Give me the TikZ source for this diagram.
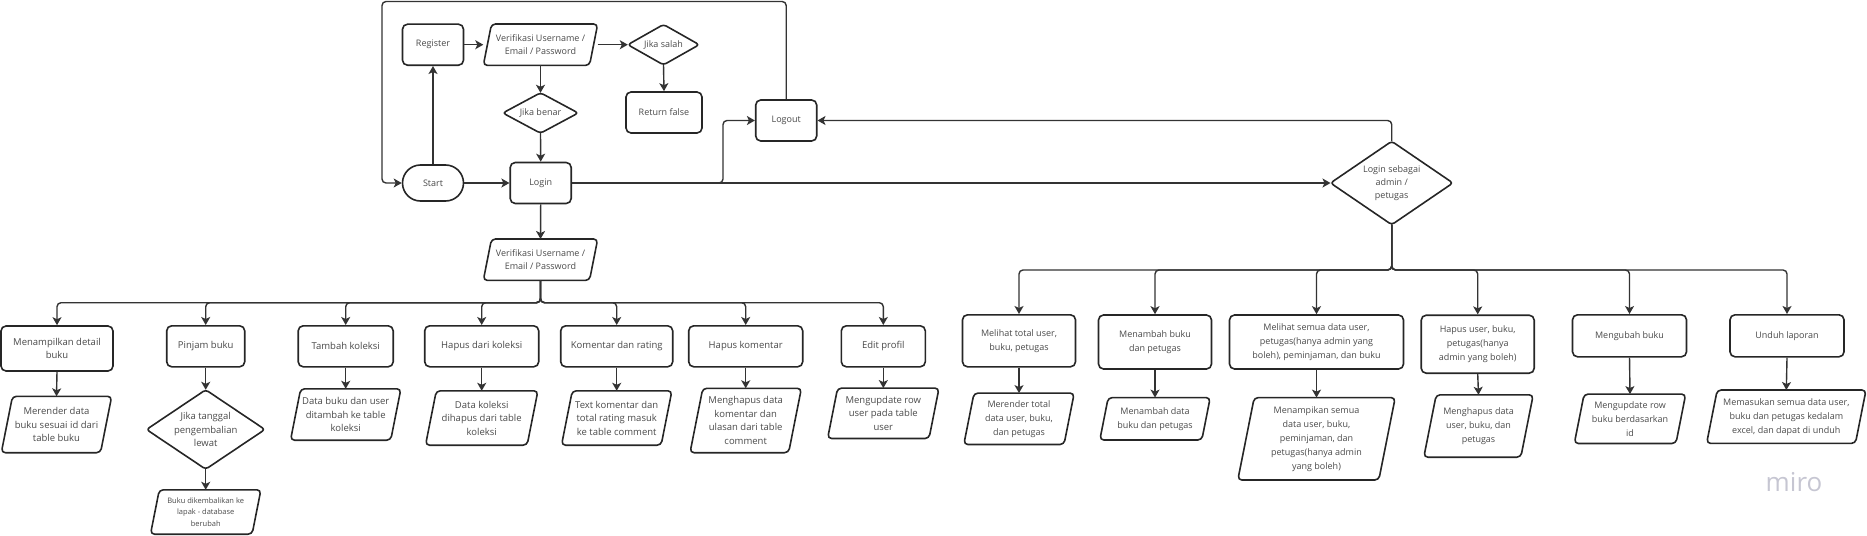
\documentclass[tikz,border=0pt]{standalone}
\usepackage{fontspec}
\setmainfont{Open Sans}
\usetikzlibrary{arrows.meta}
\definecolor{ln}{HTML}{333333}
\definecolor{bd}{HTML}{262626}
\definecolor{tx}{HTML}{4A4A4A}
\definecolor{miroc}{HTML}{C6C6D2}
\tikzset{
  base/.style={inner sep=0pt, align=center, text=tx, font=\fontsize{9.5}{13.5}\selectfont},
  topf/.style={font=\fontsize{9}{12.8}\selectfont},
  rightf/.style={font=\fontsize{9}{14}\selectfont},
  smallf/.style={font=\fontsize{7.5}{11.5}\selectfont},
  box/.style={base, draw=bd, line width=1.6pt, rounded corners=5pt, fill=white},
  conn/.style={draw=ln, line width=1.4pt, rounded corners=4pt, -{Stealth[length=8pt,width=9pt,inset=2pt]}},
  outline/.style={draw=bd, line width=1.6pt, rounded corners=4pt, line join=round},
}
% parallelogram: name, x, y, w, h, options, text
\newcommand{\pgr}[7]{%
  \node[base, minimum width=#4pt, minimum height=#5pt, #6] (#1) at (#2,#3) {#7};
  \draw[outline] (#1.south west) -- ([xshift={-0.2*#5}]#1.south east) -- (#1.north east) -- ([xshift={0.2*#5}]#1.north west) -- cycle;}
% diamond: name, x, y, w, h, options, text
\newcommand{\dmd}[7]{%
  \node[base, minimum width=#4pt, minimum height=#5pt, #6] (#1) at (#2,#3) {#7};
  \draw[outline, rounded corners=3pt] (#1.north) -- (#1.east) -- (#1.south) -- (#1.west) -- cycle;}
\begin{document}
\begin{tikzpicture}[x=1pt,y=-1pt]
\useasboundingbox (0,0) rectangle (1867,535);

% ---------- top part ----------
\node[box, topf, minimum width=61pt, minimum height=36pt, rounded corners=18pt] (start) at (433,183) {Start};
\node[box, topf, minimum width=61pt, minimum height=41pt] (register) at (433,44.7) {Register};
\pgr{verif1}{540.5}{44.7}{114}{41}{topf}{Verifikasi Username /\\Email / Password}
\dmd{salah}{663.5}{44.7}{71}{40}{topf}{Jika salah}
\node[box, topf, minimum width=76pt, minimum height=41pt] (rfalse) at (664,112.5) {Return false};
\dmd{benar}{540.5}{113}{75}{40}{topf}{Jika benar}
\node[box, topf, minimum width=61pt, minimum height=41pt] (login) at (540.7,183) {Login};
\node[box, topf, minimum width=61pt, minimum height=41pt] (logout) at (786.2,120.5) {Logout};
\pgr{verif2}{540.5}{259.7}{114}{41}{topf}{Verifikasi Username /\\Email / Password}
\dmd{adm}{1391.7}{183}{122}{83}{topf}{Login sebagai\\admin /\\petugas}

% ---------- left (user) row ----------
\node[box, minimum width=112pt, minimum height=45pt] (b1) at (57,348.5) {Menampilkan detail\\buku};
\pgr{p1}{56.5}{424.5}{110}{56}{}{Merender data\\buku sesuai id dari\\table buku}
\node[box, minimum width=78pt, minimum height=41pt] (b2) at (205.7,346.3) {Pinjam buku};
\dmd{d2}{205.7}{429.5}{118}{79}{}{Jika tanggal\\pengembalian\\lewat}
\pgr{p2}{205.7}{512}{110}{44}{smallf}{Buku dikembalikan ke\\lapak - database\\berubah}
\node[box, minimum width=95pt, minimum height=41pt] (b3) at (345.7,346.3) {Tambah koleksi};
\pgr{p3}{345.7}{414.5}{110}{51}{}{Data buku dan user\\ditambah ke table\\koleksi}
\node[box, minimum width=114pt, minimum height=41pt] (b4) at (481.7,346.3) {Hapus dari koleksi};
\pgr{p4}{481.7}{418}{112}{54}{}{Data koleksi\\dihapus dari table\\koleksi}
\node[box, minimum width=112pt, minimum height=41pt] (b5) at (616.7,346.3) {Komentar dan rating};
\pgr{p5}{616.7}{418}{110}{54}{}{Text komentar dan\\total rating masuk\\ke table comment}
\node[box, minimum width=114pt, minimum height=41pt] (b6) at (745.7,346.3) {Hapus komentar};
\pgr{p6}{745.7}{420.5}{111}{64}{}{Menghapus data\\komentar dan\\ulasan dari table\\comment}
\node[box, minimum width=84pt, minimum height=41pt] (b7) at (883.3,346.3) {Edit profil};
\pgr{p7}{883.3}{413.3}{111}{50}{}{Mengupdate row\\user pada table\\user}

% ---------- right (admin) row ----------
\node[box, rightf, minimum width=113pt, minimum height=52pt] (r1) at (1019,340.8) {Melihat total user,\\buku, petugas};
\pgr{q1}{1019}{418.8}{110}{51}{rightf}{Merender total\\data user, buku,\\dan petugas}
\node[box, rightf, minimum width=113pt, minimum height=54pt] (r2) at (1155,342) {Menambah buku\\dan petugas};
\pgr{q2}{1155}{418.8}{110}{42}{rightf}{Menambah data\\buku dan petugas}
\node[box, rightf, minimum width=174pt, minimum height=54pt] (r3) at (1316.5,342) {Melihat semua data user,\\petugas(hanya admin yang\\boleh), peminjaman, dan buku};
\pgr{q3}{1316.5}{438.8}{157}{82}{rightf}{Menampikan semua\\data user, buku,\\peminjaman, dan\\petugas(hanya admin\\yang boleh)}
\node[box, rightf, minimum width=113pt, minimum height=58pt] (r4) at (1477.7,344.2) {Hapus user, buku,\\petugas(hanya\\admin yang boleh)};
\pgr{q4}{1478.5}{426}{109}{62}{rightf}{Menghapus data\\user, buku, dan\\petugas}
\node[box, rightf, minimum width=114pt, minimum height=42pt] (r5) at (1629.5,335.8) {Mengubah buku};
\pgr{q5}{1630}{418.8}{111}{49}{rightf}{Mengupdate row\\buku berdasarkan\\id}
\node[box, rightf, minimum width=114pt, minimum height=42pt] (r6) at (1787,335.8) {Unduh laporan};
\pgr{q6}{1786.3}{416.7}{159}{53}{rightf}{Memasukan semua data user,\\buku dan petugas kedalam\\excel, dan dapat di unduh}

\node[text=miroc, inner sep=0pt, font=\fontsize{26}{26}\selectfont] (miro) at (1794,482) {miro};

% ---------- connectors: top ----------
\coordinate (lt) at (382,1.5);
\coordinate (jl) at (723,183);
\coordinate (busL) at (540.5,302.7);
\coordinate (busR) at (1391.7,270);

\draw[conn] (start.north) -- (register.south);
\draw[conn] (register.east) -- (verif1.west);
\draw[conn] (verif1.east) -- (salah.west);
\draw[conn] (salah.south) -- (rfalse.north);
\draw[conn] (verif1.south) -- (benar.north);
\draw[conn] (benar.south) -- (login.north);
\draw[conn] (start.east) -- (login.west);
\draw[conn] (login.east) -- (jl) |- (logout.west);
\draw[conn] (login.east) -- (adm.west);
\draw[conn] (adm.north) |- (logout.east);
\draw[conn] (logout.north) |- (lt) |- (start.west);
\draw[conn] (login.south) -- (verif2.north);

% ---------- connectors: user branches ----------
\foreach \b in {b1,b2,b3,b4,b5,b6,b7}{
  \draw[conn] (verif2.south) -- (busL) -| (\b.north);
}
\draw[conn] (b1.south) -- (p1.north);
\draw[conn] (b2.south) -- (d2.north);
\draw[conn] (d2.south) -- (p2.north);
\draw[conn] (b3.south) -- (p3.north);
\draw[conn] (b4.south) -- (p4.north);
\draw[conn] (b5.south) -- (p5.north);
\draw[conn] (b6.south) -- (p6.north);
\draw[conn] (b7.south) -- (p7.north);

% ---------- connectors: admin branches ----------
\foreach \r in {r1,r2,r3,r4,r5,r6}{
  \draw[conn] (adm.south) -- (busR) -| (\r.north);
}
\draw[conn] (r1.south) -- (q1.north);
\draw[conn] (r2.south) -- (q2.north);
\draw[conn] (r3.south) -- (q3.north);
\draw[conn] (r4.south) -- (q4.north);
\draw[conn] (r5.south) -- (q5.north);
\draw[conn] (r6.south) -- (q6.north);
\end{tikzpicture}
\end{document}
